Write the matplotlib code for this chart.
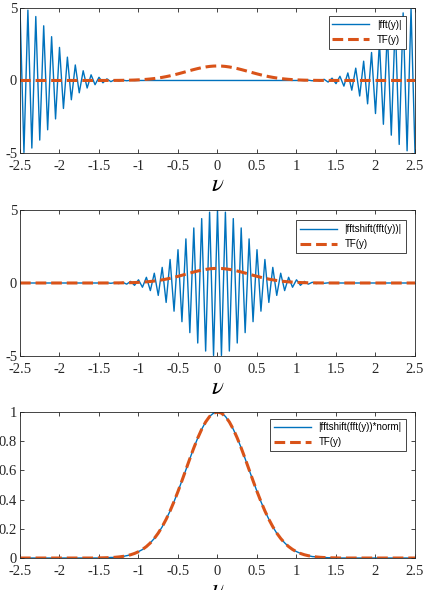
import numpy as np
import matplotlib
matplotlib.use("Agg")
import matplotlib.pyplot as plt
from matplotlib.ticker import FuncFormatter

plt.rcParams["font.family"] = ["Liberation Serif", "DejaVu Serif"]
plt.rcParams["mathtext.fontset"] = "stix"
plt.rcParams["axes.unicode_minus"] = False

# frequency grid (101 samples, step 0.05)
nu = np.linspace(-2.5, 2.5, 101)

# raw fft(y)
fft_raw = [5.00, -4.96, 4.85, -4.66, 4.41, -4.11, 3.77, -3.40, 3.02, -2.65,
           2.28, -1.93, 1.61, -1.33, 1.07, -0.85, 0.67, -0.52, 0.39, -0.29,
           0.22, -0.16, 0.11, -0.08, 0.05, -0.04, 0.02, -0.02, 0.01, -0.01] \
    + [0.0] * 41 + \
          [0.01, -0.01, 0.02, -0.02, 0.04, -0.05, 0.08, -0.11, 0.16, -0.22,
           0.29, -0.39, 0.52, -0.67, 0.85, -1.07, 1.33, -1.61, 1.93, -2.28,
           2.65, -3.02, 3.40, -3.77, 4.11, -4.41, 4.66, -4.85, 4.96, -5.00]

# fftshift(fft(y)), middle panel
fft_shift = [0.0] * 20 + \
            [0.00, -0.01, 0.01, -0.02, 0.02, -0.04, 0.05, -0.08, 0.11, -0.16,
             0.22, -0.29, 0.39, -0.52, 0.67, -0.85, 1.07, -1.33, 1.61, -1.93,
             2.28, -2.65, 3.02, -3.40, 3.77, -4.11, 4.41, -4.66, 4.85, -4.96,
             5.00,
             -4.96, 4.85, -4.66, 4.41, -4.11, 3.77, -3.40, 3.02, -2.65, 2.28,
             -1.93, 1.61, -1.33, 1.07, -0.85, 0.67, -0.52, 0.39, -0.29, 0.22,
             -0.16, 0.11, -0.08, 0.05, -0.04, 0.02, -0.02, 0.01, -0.01, 0.00] + \
            [0.0] * 20

# analytic transform TF(y)
tf = [0.0] * 20 + \
     [0.0009, 0.0014, 0.0021, 0.0033, 0.0049, 0.0074, 0.0108, 0.0157, 0.0223, 0.0313,
      0.0432, 0.0587, 0.0785, 0.1033, 0.1339, 0.1708, 0.2145, 0.2652, 0.3227, 0.3866,
      0.4559, 0.5293, 0.6049, 0.6806, 0.7537, 0.8217, 0.8819, 0.9318, 0.9691, 0.9922,
      1.0000,
      0.9922, 0.9691, 0.9318, 0.8819, 0.8217, 0.7537, 0.6806, 0.6049, 0.5293, 0.4559,
      0.3866, 0.3227, 0.2652, 0.2145, 0.1708, 0.1339, 0.1033, 0.0785, 0.0587, 0.0432,
      0.0313, 0.0223, 0.0157, 0.0108, 0.0074, 0.0049, 0.0033, 0.0021, 0.0014, 0.0009] + \
     [0.0] * 20

norm = 0.2
fft_norm = np.abs(np.array(fft_shift)) * norm

blue = "#0072BD"
orange = "#D95319"
xticks = np.arange(-2.5, 2.51, 0.5)

fig = plt.figure(figsize=(4.3, 5.9), dpi=100)
boxes = [[0.0465, 0.7407, 0.9186, 0.2458],
         [0.0465, 0.3966, 0.9186, 0.2475],
         [0.0465, 0.0542, 0.9186, 0.2475]]
series = [(fft_raw, "|fft(y)|"),
          (fft_shift, "|fftshift(fft(y))|"),
          (fft_norm, "|fftshift(fft(y))*norm|")]
leg_top = [0.945, 0.93, 0.955]

fmt = FuncFormatter(lambda v, p: "%g" % round(v, 2))

for i, (box, (vals, lab)) in enumerate(zip(boxes, series)):
    ax = fig.add_axes(box)
    ax.plot(nu, vals, color=blue, lw=1.0, label=lab)
    ax.plot(nu, tf, color=orange, lw=2.2, ls=(0, (3.5, 1.6)), label="TF(y)")
    ax.set_xlim(-2.5, 2.5)
    if i < 2:
        ax.set_ylim(-5, 5)
        ax.set_yticks([-5, 0, 5])
    else:
        ax.set_ylim(0, 1)
        ax.set_yticks(np.arange(0, 1.01, 0.2))
    ax.set_xticks(xticks)
    ax.xaxis.set_major_formatter(fmt)
    ax.yaxis.set_major_formatter(fmt)
    ax.tick_params(direction="in", top=True, right=True, labelsize=10.5,
                   length=3, width=0.6, colors="#262626")
    ax.tick_params(axis="x", pad=5)
    ax.tick_params(axis="y", pad=2)
    for s in ax.spines.values():
        s.set_linewidth(0.6)
        s.set_color("#262626")
    ax.set_xlabel(r"$\nu$", fontsize=18, labelpad=1)
    leg = ax.legend(loc="upper right", bbox_to_anchor=(0.976, leg_top[i]),
                    borderaxespad=0, fancybox=False, framealpha=1,
                    edgecolor="#262626", handlelength=3.8,
                    prop={"family": "Liberation Sans", "size": 7})
    leg.get_frame().set_linewidth(0.6)

fig.savefig("out.png", dpi=100)
